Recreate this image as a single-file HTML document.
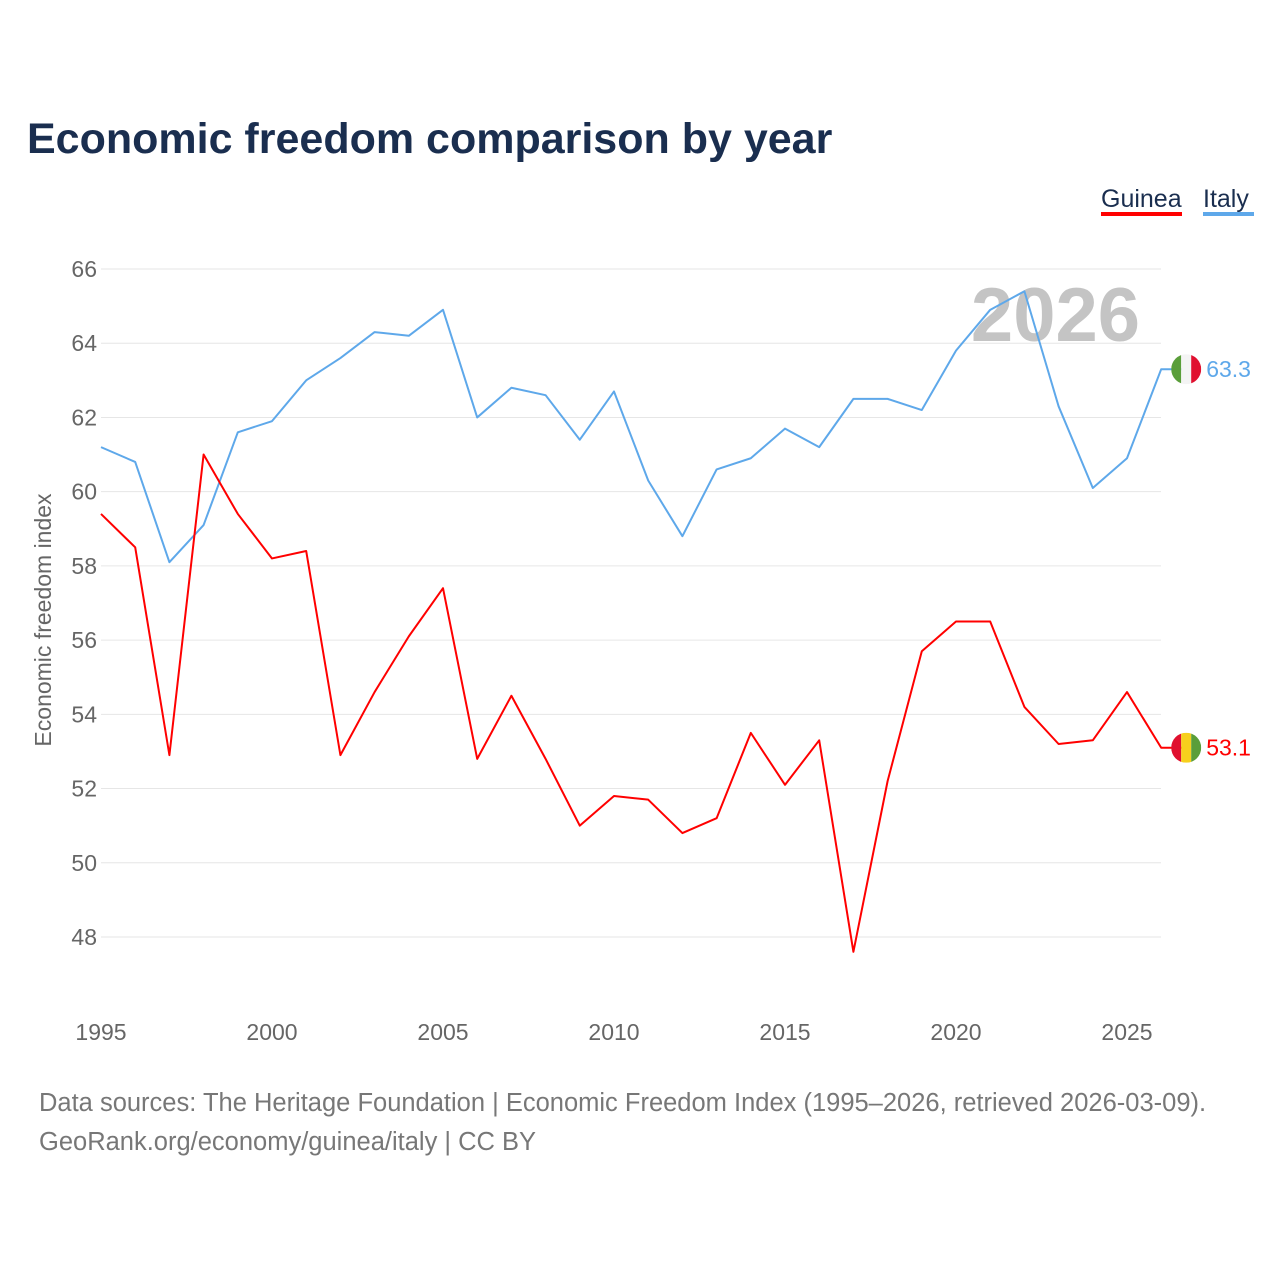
<!DOCTYPE html>
<html><head><meta charset="utf-8"><style>
body{margin:0;background:#fff;font-family:"Liberation Sans",sans-serif}
</style></head><body>
<svg width="1280" height="1280" viewBox="0 0 1280 1280" id="chart" font-family="Liberation Sans, sans-serif">
<text x="27" y="153" font-size="43" font-weight="bold" fill="#1a2e4f">Economic freedom comparison by year</text>
<g>
<text x="1101" y="207" font-size="25" fill="#1a2e4f">Guinea</text>
<rect x="1101" y="212" width="81" height="4" fill="#ff0000"/>
<text x="1203" y="207" font-size="25" fill="#1a2e4f">Italy</text>
<rect x="1203" y="212" width="51" height="4" fill="#5ea8ea"/>
</g>
<g id="grid"></g><g id="xt"></g>
<text x="1140" y="341" font-size="76" font-weight="bold" fill="#c4c4c4" text-anchor="end">2026</text>
<text transform="translate(51,620) rotate(-90)" font-size="23" fill="#666" text-anchor="middle">Economic freedom index</text>
<g id="lines"></g>
<text x="39" y="1111" font-size="25.5" fill="#777">Data sources: The Heritage Foundation | Economic Freedom Index (1995–2026, retrieved 2026-03-09).</text>
<text x="39" y="1150" font-size="25.5" fill="#777">GeoRank.org/economy/guinea/italy | CC BY</text>
</svg>
<script>
const years=[1995,1996,1997,1998,1999,2000,2001,2002,2003,2004,2005,2006,2007,2008,2009,2010,2011,2012,2013,2014,2015,2016,2017,2018,2019,2020,2021,2022,2023,2024,2025,2026];
const italy=[61.2,60.8,58.1,59.1,61.6,61.9,63.0,63.6,64.3,64.2,64.9,62.0,62.8,62.6,61.4,62.7,60.3,58.8,60.6,60.9,61.7,61.2,62.5,62.5,62.2,63.8,64.9,65.4,62.3,60.1,60.9,63.3];
const guinea=[59.4,58.5,52.9,61.0,59.4,58.2,58.4,52.9,54.6,56.1,57.4,52.8,54.5,52.8,51.0,51.8,51.7,50.8,51.2,53.5,52.1,53.3,47.6,52.2,55.7,56.5,56.5,54.2,53.2,53.3,54.6,53.1];
const yTicks=[48,50,52,54,56,58,60,62,64,66];
const xTicks=[1995,2000,2005,2010,2015,2020,2025];
const X=v=>101+(v-1995)*34.2, Y=v=>269+(66-v)*37.11;
const NS="http://www.w3.org/2000/svg";
function mk(t,a,p){const e=document.createElementNS(NS,t);for(const k in a)e.setAttribute(k,a[k]);p.appendChild(e);return e;}
const grid=document.getElementById('grid');
yTicks.forEach(t=>{const l=mk('line',{x1:101,x2:1161,y1:Y(t),y2:Y(t),stroke:'#e6e6e6','stroke-width':1},grid);


const tx=mk('text',{x:97,y:Y(t)+8,'font-size':23,fill:'#666','text-anchor':'end'},grid);tx.textContent=t;

});
const xt=document.getElementById('xt');
xTicks.forEach(t=>{const tx=mk('text',{x:X(t),y:1040,'font-size':23,fill:'#666','text-anchor':'middle'},xt);tx.textContent=t;

});
const lines=document.getElementById('lines');
function series(d,c,name,flag){
const lx=X(years[years.length-1])+25, ly=Y(d[d.length-1]);
const pts=d.map((v,i)=>X(years[i])+','+Y(v));
pts.push(lx+','+ly);
const p=mk('polyline',{points:pts.join(' '),fill:'none',stroke:c,'stroke-width':2,'stroke-linejoin':'round'},lines);


const g=mk('g',{},lines);


const cp=mk('clipPath',{id:'c'+name},g);
mk('circle',{cx:lx,cy:ly,r:15},cp);
flag.forEach((f,i)=>mk('rect',{x:lx-15+i*10,y:ly-15,width:10,height:30,fill:f,'clip-path':'url(#c'+name+')'},g));
const t=mk('text',{x:lx+20,y:ly+8,'font-size':23,fill:c},lines);t.textContent=d[d.length-1].toFixed(1);


}
series(italy,'#5ea8ea','italy',['#5a9e3a','#f4f4f4','#e0102f']);
series(guinea,'#ff0000','guinea',['#e0102f','#f7d01c','#5a9e3a']);
</script>
</body></html>
